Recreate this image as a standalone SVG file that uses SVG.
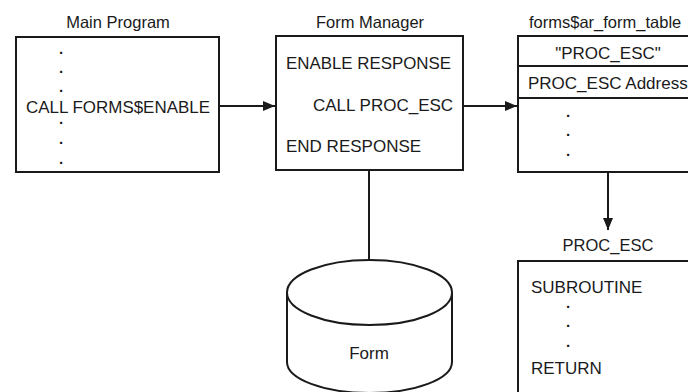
<svg xmlns="http://www.w3.org/2000/svg" width="688" height="392" viewBox="0 0 688 392">
<defs>
<style>
text{font-family:"Liberation Sans",Arial,sans-serif;fill:#1a1a1a}
.t{font-size:16.5px}
.b{font-size:17px}
.d{font-size:15px;font-weight:bold}
.box{fill:#fff;stroke:#1a1a1a;stroke-width:2}
.ln{fill:none;stroke:#1a1a1a;stroke-width:2}
</style>
<marker id="ah" viewBox="0 0 12 10" refX="12" refY="5" markerWidth="12" markerHeight="10" markerUnits="userSpaceOnUse" orient="auto">
<path d="M0,0 L12,5 L0,10 Z" fill="#1a1a1a"/>
</marker>
</defs>
<rect width="688" height="392" fill="#fff"/>
<g id="main-program">
<text class="t" x="118" y="28" text-anchor="middle">Main Program</text>
<rect class="box" x="16" y="37" width="203" height="135"/>
<text class="d" x="59" y="54">.</text>
<text class="d" x="59" y="73">.</text>
<text class="d" x="59" y="92">.</text>
<text class="b" x="26" y="113" textLength="184" lengthAdjust="spacingAndGlyphs">CALL FORMS$ENABLE</text>
<text class="d" x="59" y="124">.</text>
<text class="d" x="59" y="144">.</text>
<text class="d" x="59" y="164">.</text>
</g>
<g id="form-manager">
<text class="t" x="370" y="28" text-anchor="middle">Form Manager</text>
<rect class="box" x="276" y="36" width="187" height="134"/>
<text class="b" x="286" y="69" textLength="165" lengthAdjust="spacingAndGlyphs">ENABLE RESPONSE</text>
<text class="b" x="313" y="111">CALL PROC_ESC</text>
<text class="b" x="286" y="152">END RESPONSE</text>
</g>
<g id="form-table">
<text class="t" x="529" y="28">forms$ar_form_table</text>
<rect class="box" x="518" y="36" width="190" height="136"/>
<line class="ln" x1="518" y1="66" x2="700" y2="66"/>
<line class="ln" x1="518" y1="98" x2="700" y2="98"/>
<text class="b" x="608" y="59" text-anchor="middle">"PROC_ESC"</text>
<text class="b" x="528" y="89">PROC_ESC Address</text>
<text class="d" x="566" y="117">.</text>
<text class="d" x="566" y="136">.</text>
<text class="d" x="566" y="156">.</text>
</g>
<g id="proc-esc">
<text class="t" x="608" y="251" text-anchor="middle">PROC_ESC</text>
<rect class="box" x="518" y="261" width="190" height="150"/>
<text class="b" x="531" y="293">SUBROUTINE</text>
<text class="d" x="566" y="308">.</text>
<text class="d" x="566" y="327">.</text>
<text class="d" x="566" y="347">.</text>
<text class="b" x="531" y="374">RETURN</text>
</g>
<g id="form">
<path class="box" d="M287,292 L287,362 A82.5,31 0 0 0 452,362 L452,292"/>
<ellipse class="box" cx="369.5" cy="292.5" rx="82.5" ry="32.5"/>
<text class="b" x="369" y="359" text-anchor="middle">Form</text>
</g>
<g id="connectors">
<line class="ln" x1="219" y1="106" x2="275" y2="106" marker-end="url(#ah)"/>
<line class="ln" x1="463" y1="106" x2="517" y2="106" marker-end="url(#ah)"/>
<line class="ln" x1="608" y1="172" x2="608" y2="230" marker-end="url(#ah)"/>
<line class="ln" x1="369" y1="170" x2="369" y2="260"/>
</g>
</svg>
